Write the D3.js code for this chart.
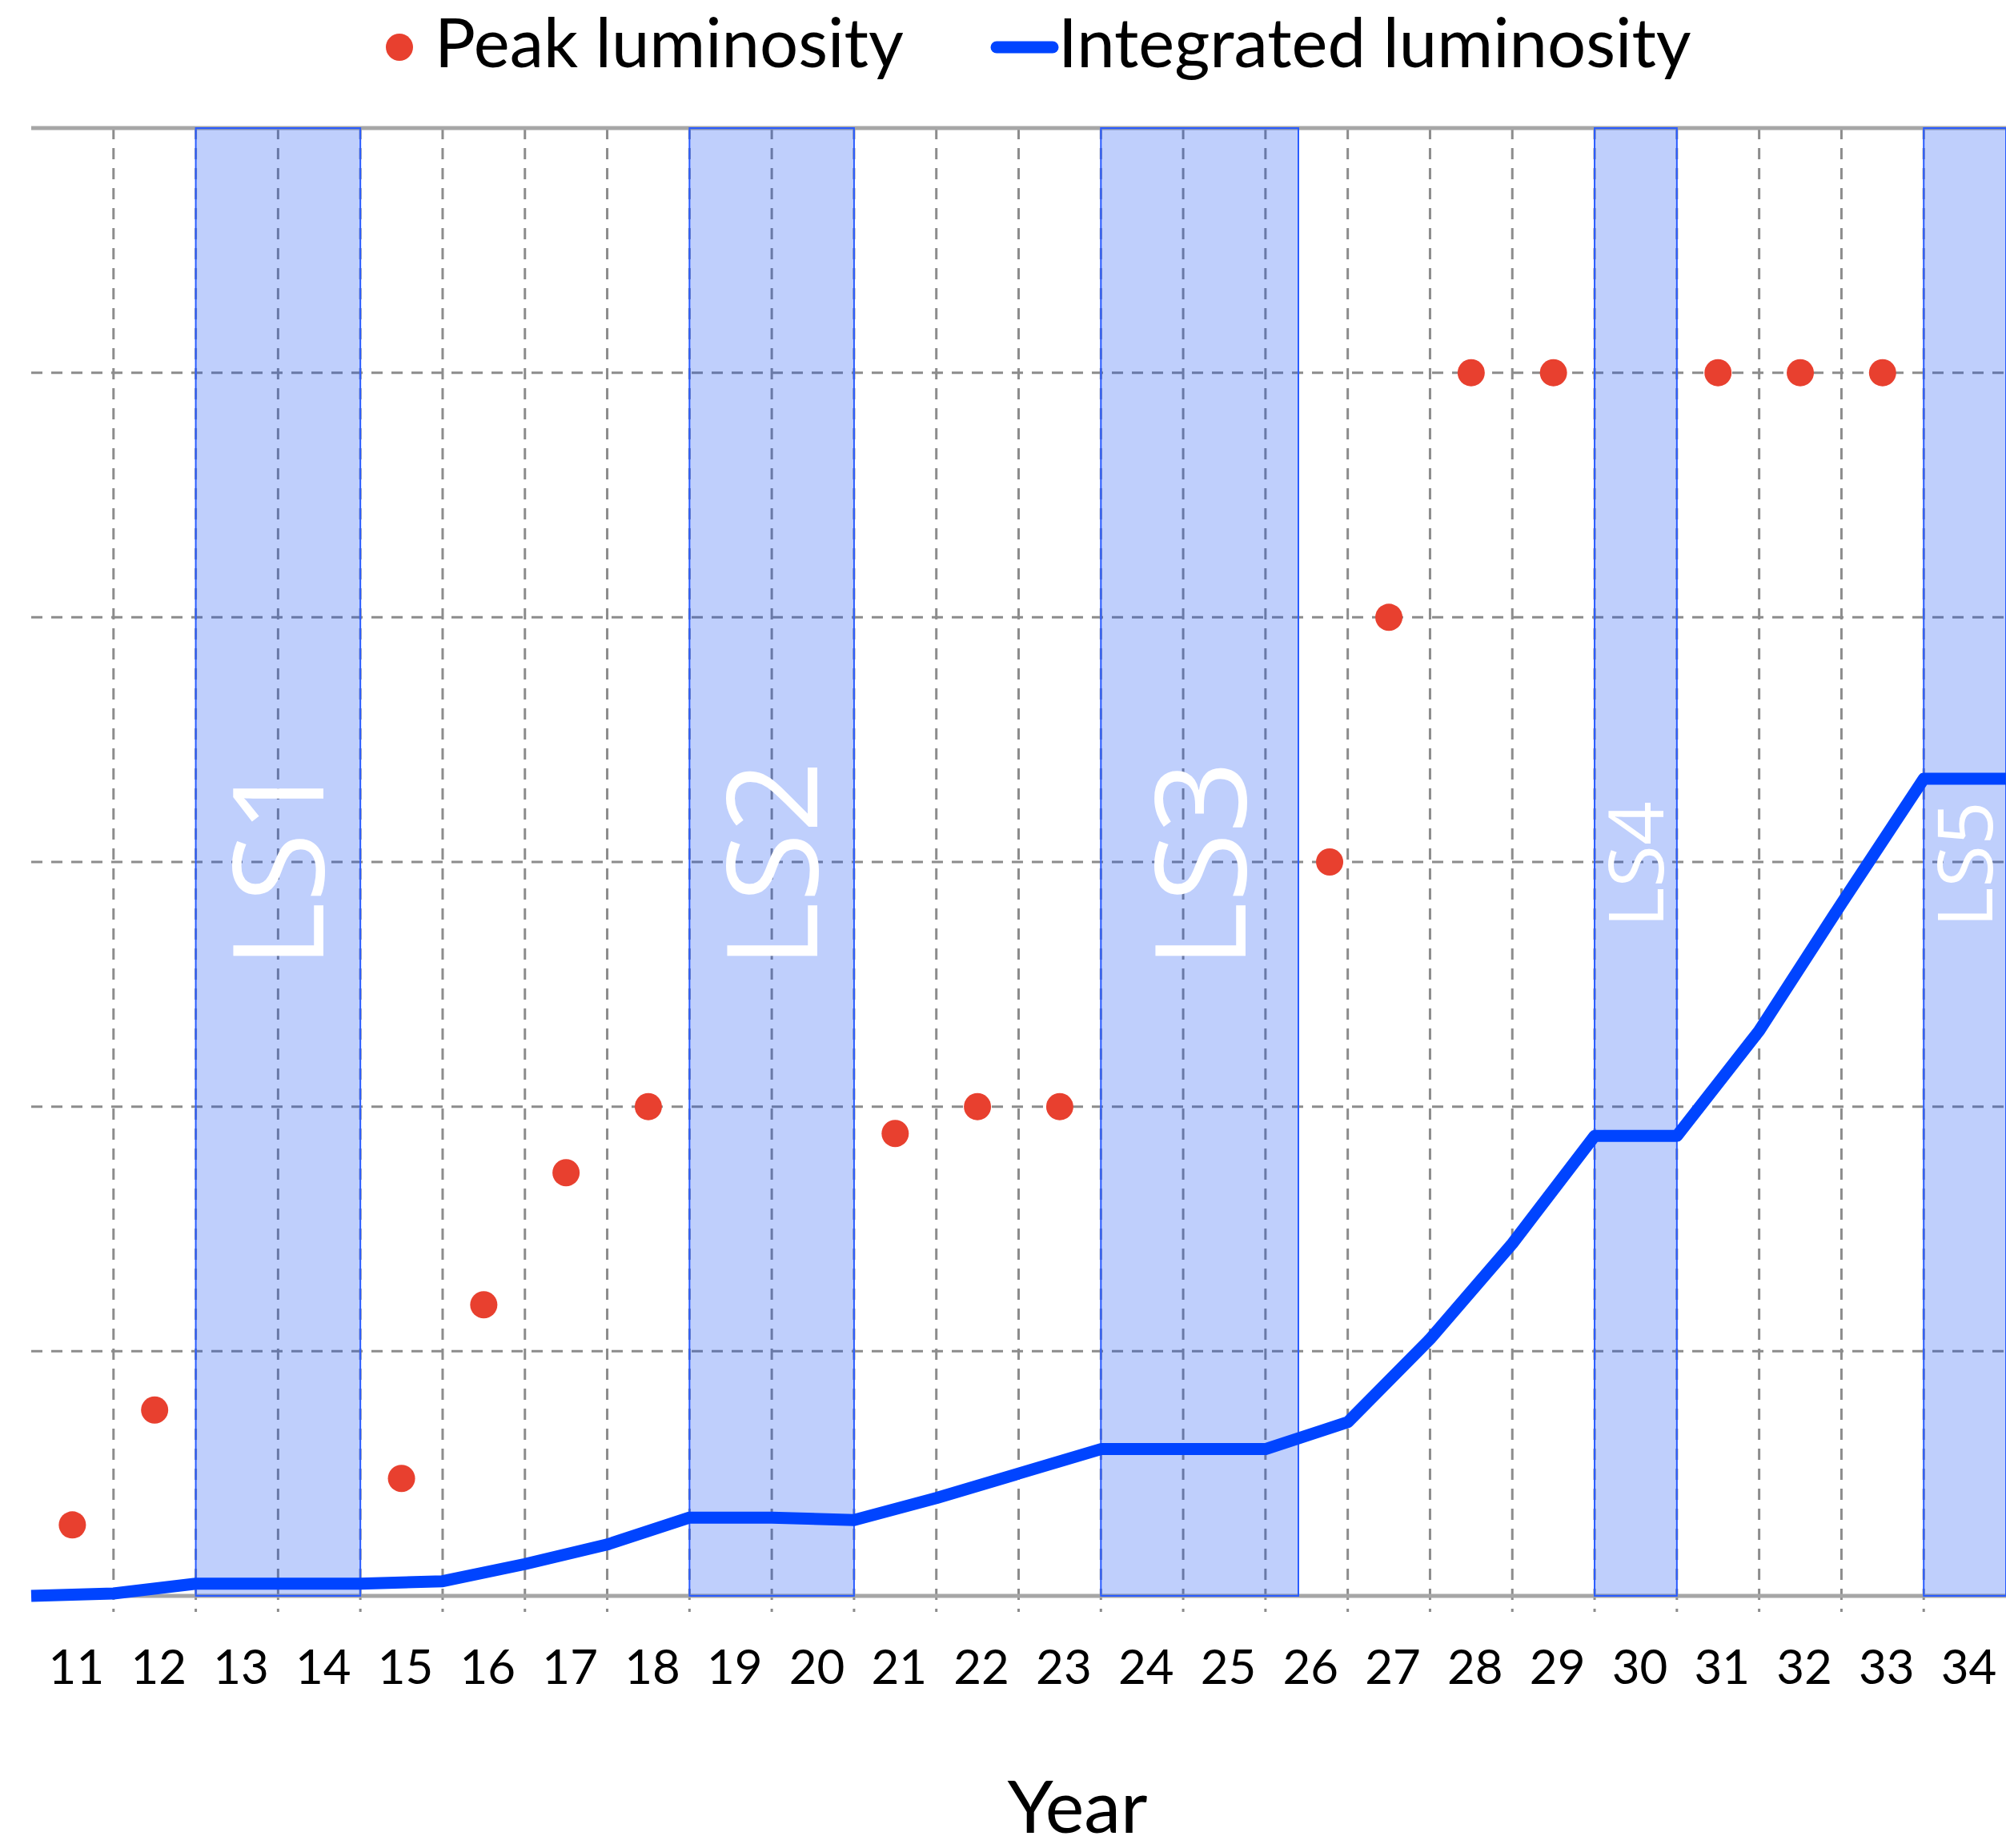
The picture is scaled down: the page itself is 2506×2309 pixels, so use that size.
<!DOCTYPE html>
<html>
<head>
<meta charset="utf-8">
<script src="https://cdn.jsdelivr.net/npm/d3@7"></script>
<style>
  html, body { margin: 0; padding: 0; background: #fff; }
  svg { display: block; }
</style>
</head>
<body>
<svg id="chart"></svg>
<script>
// x axis: one category per year (2011 .. 2034)
const yearLabels = ['11','12','13','14','15','16','17','18','19','20','21','22','23','24','25','26','27','28','29','30','31','32','33','34'];
const yearStarts = [11,12,13,14,15,16,17,18,19,20,21,22,23,24,25,26,27,28,29,30,31,32,33,34];

// peak luminosity (red dots), value in grid units
const peakYears  = [11.5, 12.5, 15.5, 16.5, 17.5, 18.5, 21.5, 22.5, 23.5, 26.78, 27.5, 28.5, 29.5, 31.5, 32.5, 33.5];
const peakValues = [0.29, 0.76, 0.48, 1.19, 1.73, 2.0, 1.89, 2.0, 2.0, 3.0, 4.0, 5.0, 5.0, 5.0, 5.0, 5.0];

// integrated luminosity (blue line), value in grid units
const intYears  = [11, 12, 13, 15, 16, 17, 18, 19, 20, 21, 22, 23, 24, 25, 26, 27, 28, 29, 30, 31, 32, 33, 34, 35];
const intValues = [0, 0.01, 0.05, 0.05, 0.06, 0.13, 0.21, 0.32, 0.32, 0.31, 0.40, 0.50, 0.60, 0.60, 0.60, 0.71, 1.05, 1.44, 1.88, 1.88, 2.31, 2.83, 3.34, 3.34];

// long shutdowns
const lsNames  = ['LS1', 'LS2', 'LS3', 'LS4', 'LS5'];
const lsStarts = [13, 19, 24, 30, 34];
const lsEnds   = [15, 21, 26.4, 31, 35];

const yGridValues = [0, 1, 2, 3, 4, 5, 6];

const width = 2506;
const height = 2309;
const margin = {top: 160, right: 0, bottom: 315, left: 39};

const svg = d3.select('#chart')
  .attr('width', width)
  .attr('height', height);

const x = d3.scaleLinear()
  .domain([11, 35])
  .range([margin.left, width - margin.right]);

const y = d3.scaleLinear()
  .domain([0, 6])
  .range([height - margin.bottom, margin.top]);

const gridColor = '#8c8c8c';
const font = 'Lato, "Open Sans", sans-serif';

// dashed grid
const grid = svg.append('g');
grid.selectAll('line.vgrid')
  .data(yearStarts.filter(d => d > 11))
  .enter().append('line')
  .attr('class', 'vgrid')
  .attr('x1', d => x(d)).attr('x2', d => x(d))
  .attr('y1', y(6)).attr('y2', y(0) + 20)
  .attr('stroke', gridColor)
  .attr('stroke-width', 3)
  .attr('stroke-dasharray', '14,11');

grid.selectAll('line.hgrid')
  .data(yGridValues.filter(d => d > 0 && d < 6))
  .enter().append('line')
  .attr('class', 'hgrid')
  .attr('x1', x(11)).attr('x2', x(35))
  .attr('y1', d => y(d)).attr('y2', d => y(d))
  .attr('stroke', gridColor)
  .attr('stroke-width', 3)
  .attr('stroke-dasharray', '14,11');

// plot frame top / bottom
grid.selectAll('line.frame')
  .data([0, 6])
  .enter().append('line')
  .attr('class', 'frame')
  .attr('x1', x(11)).attr('x2', x(35))
  .attr('y1', d => y(d)).attr('y2', d => y(d))
  .attr('stroke', '#a6a6a6')
  .attr('stroke-width', 5);

// shutdown bands
const bands = svg.append('g');
bands.selectAll('rect')
  .data(lsNames)
  .enter().append('rect')
  .attr('x', (d, i) => x(lsStarts[i]))
  .attr('y', y(6))
  .attr('width', (d, i) => x(lsEnds[i]) - x(lsStarts[i]))
  .attr('height', y(0) - y(6))
  .attr('fill', 'rgb(0,64,245)')
  .attr('fill-opacity', 0.25)
  .attr('stroke', '#2a5cff')
  .attr('stroke-width', 2);

bands.selectAll('text')
  .data(lsNames)
  .enter().append('text')
  .attr('transform', (d, i) => {
    const cx = x((lsStarts[i] + lsEnds[i]) / 2);
    return `translate(${cx}, ${y(2.99)}) rotate(-90)`;
  })
  .attr('text-anchor', 'middle')
  .attr('dy', '0.36em')
  .attr('fill', '#fff')
  .style('font-family', '"Open Sans", sans-serif')
  .style('font-size', (d, i) => (lsEnds[i] - lsStarts[i] >= 2 ? 158 : 96) + 'px')
  .text(d => d);

// integrated luminosity line
const line = d3.line()
  .x(d => x(d[0]))
  .y(d => y(d[1]));

svg.append('path')
  .datum(intYears.map((d, i) => [d, intValues[i]]))
  .attr('d', line)
  .attr('fill', 'none')
  .attr('stroke', '#0044ff')
  .attr('stroke-width', 15)
  .attr('stroke-linejoin', 'round');

// peak luminosity dots
svg.append('g')
  .selectAll('circle')
  .data(peakYears)
  .enter().append('circle')
  .attr('cx', d => x(d))
  .attr('cy', (d, i) => y(peakValues[i]))
  .attr('r', 17)
  .attr('fill', '#e8402f');

// x tick labels
svg.append('g')
  .selectAll('text')
  .data(yearLabels)
  .enter().append('text')
  .attr('x', (d, i) => x(yearStarts[i] + 0.5) + 5)
  .attr('y', 2104)
  .attr('text-anchor', 'middle')
  .attr('fill', '#000')
  .style('font-family', font)
  .style('font-size', '60px')
  .text(d => d);

// axis title
svg.append('text')
  .attr('x', 1346)
  .attr('y', 2290)
  .attr('text-anchor', 'middle')
  .attr('fill', '#000')
  .style('font-family', font)
  .style('font-size', '92px')
  .text('Year');

// legend
const legend = svg.append('g');
legend.append('circle')
  .attr('cx', 499).attr('cy', 59).attr('r', 17)
  .attr('fill', '#e8402f');
legend.append('text')
  .attr('x', 543).attr('y', 84)
  .attr('fill', '#000')
  .style('font-family', font)
  .style('font-size', '85px')
  .text('Peak luminosity');
legend.append('line')
  .attr('x1', 1245).attr('x2', 1315)
  .attr('y1', 59).attr('y2', 59)
  .attr('stroke', '#0044ff')
  .attr('stroke-width', 15)
  .attr('stroke-linecap', 'round');
legend.append('text')
  .attr('x', 1322).attr('y', 84)
  .attr('fill', '#000')
  .style('font-family', font)
  .style('font-size', '85px')
  .text('Integrated luminosity');
</script>
</body>
</html>
